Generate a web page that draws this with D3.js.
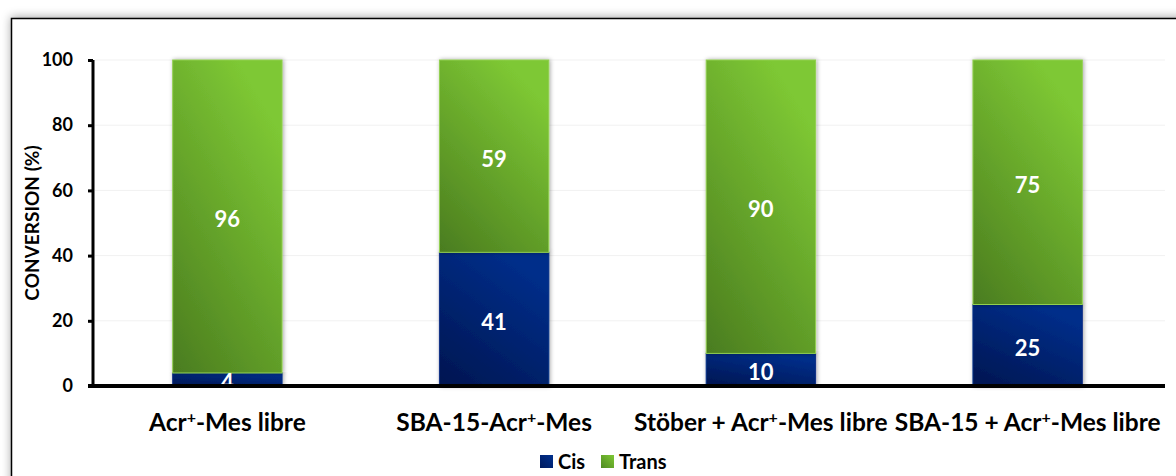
<!DOCTYPE html>
<html>
<head>
<meta charset="utf-8">
<script src="https://cdn.jsdelivr.net/npm/d3@7"></script>
<style>
  html, body { margin: 0; padding: 0; background: #ffffff; }
  svg { display: block; font-family: Lato, "Open Sans", sans-serif; font-weight: bold; }
</style>
</head>
<body>
<svg id="chart" width="1176" height="476"></svg>
<script>
// Catalyst conversion split into cis / trans products
const categories = [
  ["Acr", "+", "-Mes libre"],
  ["SBA-15-Acr", "+", "-Mes"],
  ["Stöber + Acr", "+", "-Mes libre"],
  ["SBA-15 + Acr", "+", "-Mes libre"]
];
const cisValues = [4, 41, 10, 25];
const transValues = [96, 59, 90, 75];
const yTicks = [0, 20, 40, 60, 80, 100];
const seriesNames = ["Cis", "Trans"];

const svg = d3.select("#chart");
const W = 1176, H = 476;
const margin = { left: 94, right: 10, top: 60, bottom: 90 };

const defs = svg.append("defs");

// soft shadow around the outer frame
const frameShadow = defs.append("filter").attr("id", "frameShadow")
  .attr("x", "-5%").attr("y", "-10%").attr("width", "110%").attr("height", "120%");
frameShadow.append("feDropShadow").attr("dx", 0).attr("dy", -1)
  .attr("stdDeviation", 5).attr("flood-color", "#000").attr("flood-opacity", 0.35);

// shadow under the bars
const barShadow = defs.append("filter").attr("id", "barShadow")
  .attr("x", "-20%").attr("y", "-5%").attr("width", "140%").attr("height", "110%");
barShadow.append("feDropShadow").attr("dx", 1).attr("dy", 0)
  .attr("stdDeviation", 2).attr("flood-color", "#000").attr("flood-opacity", 0.35);

function diagGradient(id, dark, light) {
  const g = defs.append("linearGradient").attr("id", id)
    .attr("x1", "0").attr("y1", "1").attr("x2", "0.6").attr("y2", "0");
  g.append("stop").attr("offset", "0%").attr("stop-color", dark);
  g.append("stop").attr("offset", "100%").attr("stop-color", light);
}
diagGradient("gradCis", "#001550", "#002e8a");
diagGradient("gradTrans", "#4a7c1f", "#7ec834");

// legend swatch gradients (diagonal over a square)
function swatchGradient(id, dark, light) {
  const g = defs.append("linearGradient").attr("id", id)
    .attr("x1", "0").attr("y1", "1").attr("x2", "1").attr("y2", "0");
  g.append("stop").attr("offset", "0%").attr("stop-color", dark);
  g.append("stop").attr("offset", "100%").attr("stop-color", light);
}
swatchGradient("swCis", "#001a5e", "#00308e");
swatchGradient("swTrans", "#4f8a22", "#7ec834");

// outer frame
svg.append("rect")
  .attr("x", 11.5).attr("y", 18.5).attr("width", 1200).attr("height", 500)
  .attr("fill", "#ffffff").attr("stroke", "#000").attr("stroke-width", 1.5)
  .attr("filter", "url(#frameShadow)");

const x = d3.scaleBand()
  .domain(d3.range(categories.length))
  .range([margin.left, W - margin.right - 5])
  .paddingInner(0.59).paddingOuter(0.295);

const y = d3.scaleLinear().domain([0, 100]).range([386, 60]);

// faint horizontal gridlines
svg.append("g").selectAll("line").data(yTicks.filter(d => d > 0)).join("line")
  .attr("x1", 95).attr("x2", 1165)
  .attr("y1", d => y(d)).attr("y2", d => y(d))
  .attr("stroke", "#f1f1f1").attr("stroke-width", 1);

// stacked bars
const stackData = categories.map((c, i) => ({ i, cis: cisValues[i], trans: transValues[i] }));
const stack = d3.stack().keys(["cis", "trans"])(stackData);
const fills = { cis: "url(#gradCis)", trans: "url(#gradTrans)" };
const strokes = { cis: "#0a2f86", trans: "#92d050" };

const barG = svg.append("g");
stack.forEach(layer => {
  barG.append("g").selectAll("rect").data(layer).join("rect")
    .attr("x", d => x(d.data.i))
    .attr("width", x.bandwidth())
    .attr("y", d => y(d[1]))
    .attr("height", d => y(d[0]) - y(d[1]))
    .attr("fill", fills[layer.key])
    .attr("stroke", strokes[layer.key])
    .attr("stroke-width", 1)
    .attr("filter", "url(#barShadow)");
});

// value labels
stack.forEach(layer => {
  svg.append("g").selectAll("text").data(layer).join("text")
    .attr("x", d => x(d.data.i) + x.bandwidth() / 2)
    .attr("y", d => (y(d[0]) + y(d[1])) / 2 + 10.5)
    .attr("text-anchor", "middle")
    .attr("fill", "#ffffff")
    .attr("font-size", 22)
    .text(d => d[1] - d[0]);
});

// y axis
const yAxis = d3.axisLeft(y).tickValues(yTicks).tickSize(5).tickPadding(15);
const yg = svg.append("g").attr("transform", "translate(93,0)").call(yAxis);
yg.select(".domain").attr("stroke", "#000").attr("stroke-width", 3).attr("d", "M0,60V386");
yg.selectAll(".tick line").attr("stroke", "#000").attr("stroke-width", 3);
yg.selectAll(".tick text").attr("font-size", 18).attr("font-weight", "bold")
  .attr("font-family", "Lato, sans-serif").attr("fill", "#000");

// x axis baseline
svg.append("line").attr("x1", 88).attr("x2", 1165).attr("y1", 386).attr("y2", 386)
  .attr("stroke", "#000").attr("stroke-width", 4);

// category labels with superscript plus
const catText = svg.append("g").selectAll("text").data(categories).join("text")
  .attr("x", (d, i) => x(i) + x.bandwidth() / 2)
  .attr("y", 431)
  .attr("text-anchor", "middle")
  .attr("font-size", 24.5)
  .attr("fill", "#000");
catText.each(function(d) {
  const t = d3.select(this);
  t.append("tspan").text(d[0]);
  t.append("tspan").attr("dy", -8).attr("font-size", 16).text(d[1]);
  t.append("tspan").attr("dy", 8).text(d[2]);
});

// y axis title
svg.append("text")
  .attr("transform", "translate(39,223) rotate(-90)")
  .attr("text-anchor", "middle")
  .attr("font-size", 19)
  .attr("fill", "#000")
  .text("CONVERSION (%)");

// legend
const legend = svg.append("g").attr("transform", "translate(540,455)");
const legendItems = [
  { name: seriesNames[0], fill: "url(#swCis)", dx: 0 },
  { name: seriesNames[1], fill: "url(#swTrans)", dx: 61 }
];
legendItems.forEach(it => {
  const g = legend.append("g").attr("transform", `translate(${it.dx},0)`);
  g.append("rect").attr("width", 13).attr("height", 13).attr("fill", it.fill);
  g.append("text").attr("x", 18).attr("y", 13.5).attr("font-size", 20).attr("fill", "#000").text(it.name);
});
</script>
</body>
</html>
